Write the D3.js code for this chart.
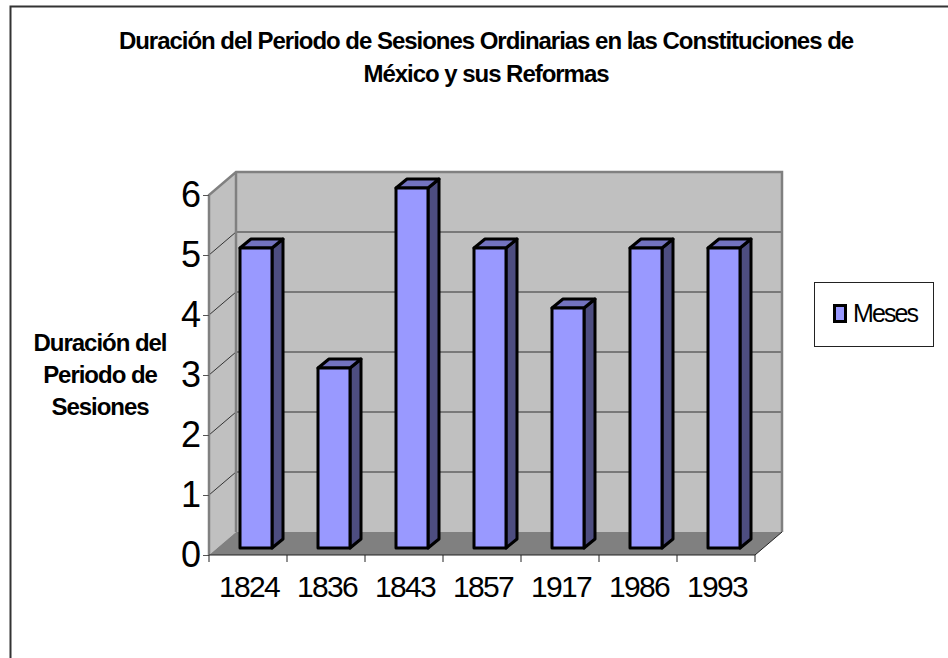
<!DOCTYPE html>
<html>
<head>
<meta charset="utf-8">
<script src="https://cdnjs.cloudflare.com/ajax/libs/d3/7.8.5/d3.min.js"></script>
<style>
  html, body { margin: 0; padding: 0; background: #fff; }
  svg { display: block; font-family: "Liberation Sans", Arial, sans-serif; }
  .title { font-size: 24px; font-weight: bold; letter-spacing: -1.03px; text-anchor: middle; }
  .axis-title { font-size: 24px; font-weight: bold; letter-spacing: -1.03px; text-anchor: middle; }
</style>
</head>
<body>
<svg id="chart" width="948" height="658"></svg>
<script>
// values
const years = ["1824", "1836", "1843", "1857", "1917", "1986", "1993"];
const meses = [5, 3, 6, 5, 4, 5, 5];
const yTicks = [0, 1, 2, 3, 4, 5, 6];
const seriesName = "Meses";
const titleLines = ["Duración del Periodo de Sesiones Ordinarias en las Constituciones de", "México y sus Reformas"];
const yTitleLines = ["Duración del", "Periodo de", "Sesiones"];

const svg = d3.select("#chart");

// front plane of the box
const margin = {left: 209, right: 755, top: 195, bottom: 555};
const depthX = 27, depthY = -23;   // front plane -> back wall
const barDx = 11, barDy = -9;      // bar side depth

const xScale = d3.scaleBand().domain(years).range([margin.left, margin.right]).paddingInner(0).paddingOuter(0);
const yScale = d3.scaleLinear().domain([0, 6]).range([margin.bottom, margin.top]);

// page frame
svg.append("path")
    .attr("d", "M10.5,658V6.5H948")
    .attr("fill", "none")
    .attr("stroke", "#333")
    .attr("stroke-width", 2);

// walls and floor
const y0 = yScale(0), y6 = yScale(6);
const poly = (pts, fill) => svg.append("polygon")
    .attr("points", pts.map(p => p.join(",")).join(" "))
    .attr("fill", fill);

poly([[margin.left, y0], [margin.left + depthX, y0 + depthY], [margin.left + depthX, y6 + depthY], [margin.left, y6]], "#c0c0c0");
poly([[margin.left + depthX, y0 + depthY], [margin.right + depthX, y0 + depthY], [margin.right + depthX, y6 + depthY], [margin.left + depthX, y6 + depthY]], "#c0c0c0");
poly([[margin.left, y0], [margin.right, y0], [margin.right + depthX, y0 + depthY], [margin.left + depthX, y0 + depthY]], "#808080");

// gridlines on the side and back walls
const grid = svg.append("g");
yTicks.filter(d => d > 0 && d < 6).forEach(d => {
  grid.append("path")
      .attr("d", `M${margin.left},${yScale(d)}L${margin.left + depthX},${yScale(d) + depthY}H${margin.right + depthX}`)
      .attr("fill", "none")
      .attr("stroke", "#333")
      .attr("stroke-width", 1);
});

// box edges
svg.append("path")
    .attr("d", `M${margin.left},${y0}V${y6}L${margin.left + depthX},${y6 + depthY}H${margin.right + depthX}V${y0 + depthY}M${margin.left + depthX},${y6 + depthY}V${y0 + depthY}`)
    .attr("fill", "none")
    .attr("stroke", "#808080")
    .attr("stroke-width", 2.5);

// floor front-right edge
svg.append("path")
    .attr("d", `M${margin.right},${y0}L${margin.right + depthX},${y0 + depthY}`)
    .attr("stroke", "#222")
    .attr("stroke-width", 1);

// bars
const barW = 32, barOffX = 8, barOffY = -7;
const bars = svg.append("g").selectAll("g").data(meses).join("g")
    .attr("transform", (d, i) => `translate(${xScale(years[i]) + xScale.bandwidth() / 2 - barW / 2 + barOffX},${barOffY})`)
    .attr("stroke", "#000")
    .attr("stroke-width", 3)
    .attr("stroke-linejoin", "round");

bars.append("path")
    .attr("fill", "#4d4d80")
    .attr("d", d => `M${barW},${yScale(d)}L${barW + barDx},${yScale(d) + barDy}V${y0 + barDy}L${barW},${y0}Z`);
bars.append("path")
    .attr("fill", "#7373bf")
    .attr("d", d => `M0,${yScale(d)}L${barDx},${yScale(d) + barDy}H${barW + barDx}L${barW},${yScale(d)}Z`);
bars.append("rect")
    .attr("fill", "#9999ff")
    .attr("x", 0)
    .attr("y", d => yScale(d))
    .attr("width", barW)
    .attr("height", d => y0 - yScale(d));

// axes
const yAxis = d3.axisLeft(yScale).tickValues(yTicks).tickFormat(d3.format("d")).tickSize(6).tickPadding(2);
const yAxisG = svg.append("g")
    .attr("transform", `translate(${margin.left},0)`)
    .call(yAxis);
yAxisG.select(".domain").remove();
yAxisG.selectAll("line").attr("stroke", "#555");
yAxisG.selectAll("text")
    .attr("fill", "#000")
    .attr("font-size", 36)
    .attr("font-family", "Liberation Sans");

const xAxis = d3.axisBottom(xScale).tickSize(0).tickPadding(21);
const xAxisG = svg.append("g")
    .attr("transform", `translate(0,${margin.bottom})`)
    .call(xAxis);
xAxisG.select(".domain").remove();
xAxisG.append("path")
    .attr("d", `M${margin.left},0H${margin.right}`)
    .attr("stroke", "#222");
xAxisG.selectAll("text")
    .attr("fill", "#000")
    .attr("font-size", 30)
    .attr("letter-spacing", "-1.7px")
    .attr("dx", 1)
    .attr("font-family", "Liberation Sans");
// ticks sit between the categories
xAxisG.selectAll(".edge").data(d3.range(years.length + 1)).join("line")
    .attr("class", "edge")
    .attr("x1", i => margin.left + i * xScale.bandwidth())
    .attr("x2", i => margin.left + i * xScale.bandwidth())
    .attr("y1", 0)
    .attr("y2", 7)
    .attr("stroke", "#222");

// titles
svg.selectAll(".title").data(titleLines).join("text")
    .attr("class", "title")
    .attr("x", 486)
    .attr("y", (d, i) => 49 + i * 33)
    .text(d => d);

svg.selectAll(".axis-title").data(yTitleLines).join("text")
    .attr("class", "axis-title")
    .attr("x", 100)
    .attr("y", (d, i) => 351 + i * 32)
    .text(d => d);

// legend
const legend = svg.append("g");
legend.append("rect")
    .attr("x", 814.5).attr("y", 282.5)
    .attr("width", 119).attr("height", 64)
    .attr("fill", "#fff")
    .attr("stroke", "#222");
legend.append("rect")
    .attr("x", 834.5).attr("y", 305.5)
    .attr("width", 11).attr("height", 16)
    .attr("fill", "#9999ff")
    .attr("stroke", "#000")
    .attr("stroke-width", 3);
legend.append("text")
    .attr("x", 853).attr("y", 322)
    .attr("font-size", 25)
    .attr("letter-spacing", "-1.9px")
    .text(seriesName);
</script>
</body>
</html>
